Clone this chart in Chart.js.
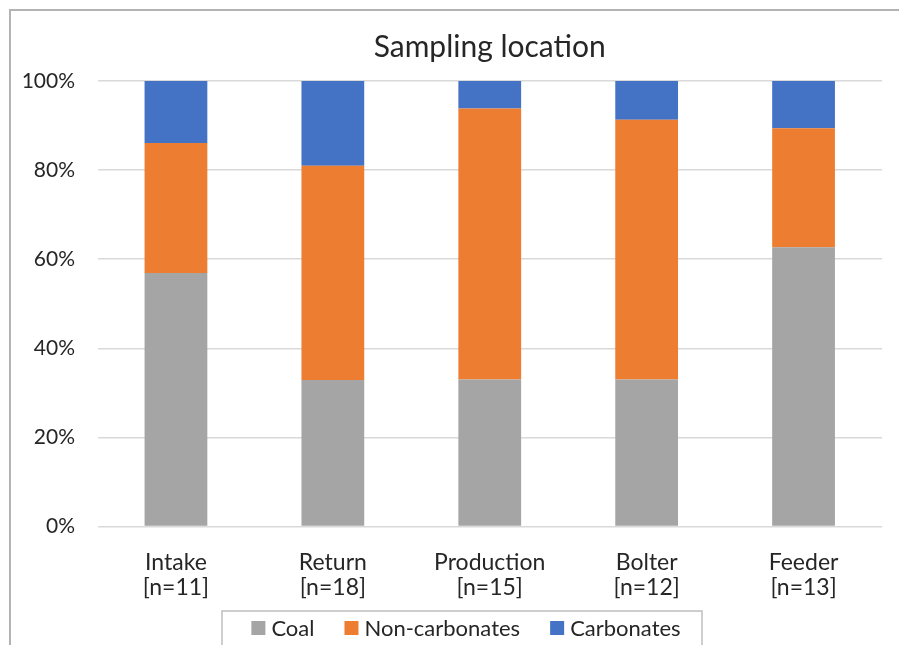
<!DOCTYPE html>
<html>
<head>
<meta charset="utf-8">
<script src="https://cdn.jsdelivr.net/npm/chart.js@4/dist/chart.umd.min.js"></script>
<style>
  html, body { margin: 0; padding: 0; background: #ffffff; }
  #wrap { position: relative; width: 899px; height: 645px; }
</style>
</head>
<body>
<div id="wrap"><canvas id="chart" width="899" height="645"></canvas></div>
<script>
// Sampling locations and number of samples at each
const locations = ['Intake', 'Return', 'Production', 'Bolter', 'Feeder'];
const sampleCounts = [11, 18, 15, 12, 13];

// Share of each particle class (%)
const coal = [56.9, 32.9, 33.0, 33.0, 62.7];
const nonCarbonates = [29.2, 48.1, 60.8, 58.3, 26.7];
const carbonates = [13.9, 19.0, 6.2, 8.7, 10.6];

// Value axis ticks (%)
const percentTicks = [0, 20, 40, 60, 80, 100];

const FONT = 'Lato, "Open Sans", "DejaVu Sans", sans-serif';
const TEXT = '#262626';

const categoryLabels = locations.map((name, i) => [name, '[n=' + sampleCounts[i] + ']']);

// Outer frame plus a boxed legend under the axis
const framePlugin = {
  id: 'frameAndLegend',
  afterDraw(chart) {
    const ctx = chart.ctx;
    ctx.save();
    ctx.strokeStyle = '#b3b3b3';
    ctx.lineWidth = 2;
    ctx.beginPath();
    ctx.moveTo(10, 660);
    ctx.lineTo(10, 10);
    ctx.lineTo(910, 10);
    ctx.stroke();

    // legend box
    const box = { left: 222, top: 611, right: 702, bottom: 660 };
    ctx.strokeStyle = '#bfbfbf';
    ctx.lineWidth = 1.5;
    ctx.strokeRect(box.left, box.top, box.right - box.left, box.bottom - box.top);

    ctx.font = '22px ' + FONT;
    ctx.textBaseline = 'middle';
    ctx.textAlign = 'left';
    const sq = 14, gapText = 6, gapItem = 30;
    const items = chart.data.datasets.map(ds => ({ label: ds.label, color: ds.backgroundColor, w: ctx.measureText(ds.label).width }));
    const total = items.reduce((s, it) => s + sq + gapText + it.w, 0) + gapItem * (items.length - 1);
    let x = 466 - total / 2;
    const cy = 628;
    items.forEach(it => {
      ctx.fillStyle = it.color;
      ctx.fillRect(x, cy - sq / 2, sq, sq);
      x += sq + gapText;
      ctx.fillStyle = TEXT;
      ctx.fillText(it.label, x, cy + 1);
      x += it.w + gapItem;
    });
    ctx.restore();
  }
};

new Chart(document.getElementById('chart'), {
  type: 'bar',
  data: {
    labels: categoryLabels,
    datasets: [
      { label: 'Coal', data: coal, backgroundColor: '#a5a5a5' },
      { label: 'Non-carbonates', data: nonCarbonates, backgroundColor: '#ed7d31' },
      { label: 'Carbonates', data: carbonates, backgroundColor: '#4472c4' }
    ]
  },
  options: {
    responsive: false,
    animation: false,
    layout: { padding: { left: 0, right: 17, top: 0, bottom: 0 } },
    datasets: { bar: { categoryPercentage: 0.4, barPercentage: 1, borderWidth: 0 } },
    plugins: {
      legend: { display: false },
      tooltip: { enabled: false },
      title: {
        display: true,
        text: 'Sampling location',
        fullSize: false,
        color: TEXT,
        font: { family: FONT, size: 30, weight: 'normal', lineHeight: 1.2 },
        padding: { top: 29, bottom: 16 }
      }
    },
    scales: {
      x: {
        stacked: true,
        grid: { display: false, drawTicks: false },
        border: { display: false },
        ticks: {
          color: TEXT,
          padding: 23,
          maxRotation: 0,
          autoSkip: false,
          font: { family: FONT, size: 23, lineHeight: 1.1 }
        },
        afterFit(scale) { scale.height = 118.5; }
      },
      y: {
        stacked: true,
        min: 0,
        max: 100,
        afterBuildTicks(scale) { scale.ticks = percentTicks.map(v => ({ value: v })); },
        grid: { color: '#d9d9d9', lineWidth: 1.5, drawTicks: false },
        border: { display: false },
        ticks: {
          color: TEXT,
          padding: 22.5,
          font: { family: FONT, size: 21 },
          callback: v => v + '%'
        },
        afterFit(scale) { scale.width = 97.5; }
      }
    }
  },
  plugins: [framePlugin]
});
</script>
</body>
</html>
